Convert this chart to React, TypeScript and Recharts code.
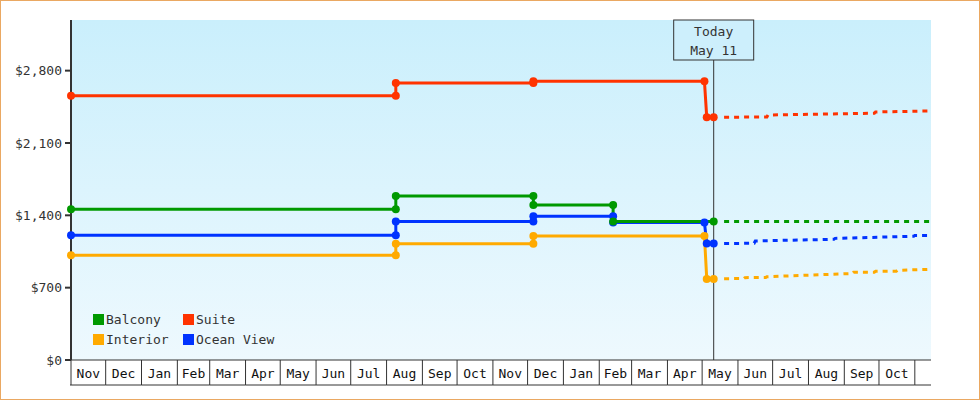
import { LineChart, Line, XAxis, YAxis, CartesianGrid, ReferenceLine } from 'recharts'

type Obs = { date: string, price: number }

const FONT = "'DejaVu Sans Mono', monospace"

const START_DATE = '2021-11-01'
const END_DATE = '2023-11-15'
const TODAY = '2023-05-11'
const TODAY_TEXT = ['Today', 'May 11']

const monthLabels = ['Nov', 'Dec', 'Jan', 'Feb', 'Mar', 'Apr', 'May', 'Jun', 'Jul', 'Aug', 'Sep', 'Oct',
    'Nov', 'Dec', 'Jan', 'Feb', 'Mar', 'Apr', 'May', 'Jun', 'Jul', 'Aug', 'Sep', 'Oct', '']
const yTicks = [0, 700, 1400, 2100, 2800]
const yMax = 3290

// price history (step changes are two points on the same day)
const balconyHistory: Obs[] = [
    { date: '2021-11-01', price: 1458 },
    { date: '2022-08-09', price: 1458 },
    { date: '2022-08-09', price: 1587 },
    { date: '2022-12-06', price: 1587 },
    { date: '2022-12-06', price: 1500 },
    { date: '2023-02-13', price: 1500 },
    { date: '2023-02-13', price: 1339 },
    { date: '2023-05-11', price: 1339 },
]
const oceanHistory: Obs[] = [
    { date: '2021-11-01', price: 1206 },
    { date: '2022-08-09', price: 1206 },
    { date: '2022-08-09', price: 1339 },
    { date: '2022-12-06', price: 1339 },
    { date: '2022-12-06', price: 1391 },
    { date: '2023-02-13', price: 1391 },
    { date: '2023-02-13', price: 1330 },
    { date: '2023-05-03', price: 1330 },
    { date: '2023-05-05', price: 1127 },
    { date: '2023-05-11', price: 1127 },
]
const interiorHistory: Obs[] = [
    { date: '2021-11-01', price: 1013 },
    { date: '2022-08-09', price: 1013 },
    { date: '2022-08-09', price: 1125 },
    { date: '2022-12-06', price: 1125 },
    { date: '2022-12-06', price: 1200 },
    { date: '2023-05-03', price: 1200 },
    { date: '2023-05-05', price: 785 },
    { date: '2023-05-11', price: 785 },
]
const suiteHistory: Obs[] = [
    { date: '2021-11-01', price: 2558 },
    { date: '2022-08-09', price: 2558 },
    { date: '2022-08-09', price: 2681 },
    { date: '2022-12-06', price: 2681 },
    { date: '2022-12-06', price: 2697 },
    { date: '2023-05-03', price: 2697 },
    { date: '2023-05-05', price: 2349 },
    { date: '2023-05-11', price: 2349 },
]

// forecast (dashed)
const balconyForecast: Obs[] = [
    { date: '2023-05-20', price: 1339 },
    { date: '2023-11-15', price: 1339 },
]
const oceanForecast: Obs[] = [
    { date: '2023-05-20', price: 1127 },
    { date: '2023-06-15', price: 1130 },
    { date: '2023-06-16', price: 1152 },
    { date: '2023-08-23', price: 1168 },
    { date: '2023-08-24', price: 1177 },
    { date: '2023-10-31', price: 1197 },
    { date: '2023-11-01', price: 1205 },
    { date: '2023-11-15', price: 1206 },
]
const interiorForecast: Obs[] = [
    { date: '2023-05-20', price: 787 },
    { date: '2023-06-06', price: 788 },
    { date: '2023-06-07', price: 797 },
    { date: '2023-06-25', price: 798 },
    { date: '2023-06-26', price: 806 },
    { date: '2023-09-08', price: 837 },
    { date: '2023-09-09', price: 849 },
    { date: '2023-09-27', price: 850 },
    { date: '2023-09-28', price: 858 },
    { date: '2023-10-16', price: 859 },
    { date: '2023-10-17', price: 868 },
    { date: '2023-11-15', price: 878 },
]
const suiteForecast: Obs[] = [
    { date: '2023-05-20', price: 2349 },
    { date: '2023-06-26', price: 2352 },
    { date: '2023-06-27', price: 2371 },
    { date: '2023-09-27', price: 2388 },
    { date: '2023-09-28', price: 2400 },
    { date: '2023-11-15', price: 2410 },
]

const series = [
    { name: 'Interior', color: '#ffaa00', history: interiorHistory, forecast: interiorForecast },
    { name: 'Ocean View', color: '#0033ff', history: oceanHistory, forecast: oceanForecast },
    { name: 'Balcony', color: '#009900', history: balconyHistory, forecast: balconyForecast },
    { name: 'Suite', color: '#ff3300', history: suiteHistory, forecast: suiteForecast },
]
const legendOrder = ['Balcony', 'Suite', 'Interior', 'Ocean View']

const DAY_MS = 86400000
const utc = (s: string) => Date.parse(s + 'T00:00:00Z')
const toDay = (s: string) => Math.round((utc(s) - utc(START_DATE)) / DAY_MS)
const toPoints = (obs: Obs[]) => obs.map(o => ({ day: toDay(o.date), price: o.price }))

const X_MAX = toDay(END_DATE)
const monthStarts = monthLabels.map((_, i) => {
    const s = new Date(utc(START_DATE))
    return Math.round((Date.UTC(s.getUTCFullYear(), s.getUTCMonth() + i, 1) - utc(START_DATE)) / DAY_MS)
})

const W = 980, H = 400
const M = { top: 20, right: 49, bottom: 0, left: 0 }
const Y_W = 71
const PXD = (W - M.left - M.right - Y_W) / X_MAX

const MonthTick = (props: any) => {
    const { x, y, payload } = props
    const i = monthStarts.indexOf(payload.value)
    const next = i < monthStarts.length - 1 ? monthStarts[i + 1] : X_MAX
    const w = (next - payload.value) * PXD
    return <g>
        <line x1={x} y1={y} x2={x} y2={y + 25} stroke='#333' />
        <line x1={i === 0 ? x - 1 : x} y1={y + 25} x2={x + w} y2={y + 25} stroke='#333' />
        <text x={x + w / 2} y={y + 18} textAnchor='middle' fill='#111' fontSize={13} fontFamily={FONT}>
            {monthLabels[i]}
        </text>
    </g>
}

const TodayLabel = (props: any) => {
    const { viewBox } = props
    const cx = viewBox.x
    const top = viewBox.y
    return <g>
        <rect x={cx - 40} y={top} width={80} height={40} fill='#cdeffc' stroke='#333' />
        <text x={cx} y={top + 16} textAnchor='middle' fill='#333' fontSize={13} fontFamily={FONT}>{TODAY_TEXT[0]}</text>
        <text x={cx} y={top + 35} textAnchor='middle' fill='#333' fontSize={13} fontFamily={FONT}>{TODAY_TEXT[1]}</text>
    </g>
}

const ChartLegend = () => <div style={{
    position: 'absolute', left: 93, top: 313, width: 200,
    display: 'grid', gridTemplateColumns: '90px 110px', rowGap: 7,
    fontFamily: FONT, fontSize: 13, lineHeight: '13px', color: '#333'
}}>
    {legendOrder.map(n => {
        const s = series.find(x => x.name === n)!
        return <div key={n} style={{ display: 'flex', alignItems: 'center', whiteSpace: 'pre' }}>
            <span style={{ display: 'inline-block', width: 11, height: 11, background: s.color, marginRight: 2 }} />
            {n}
        </div>
    })}
</div>

export default function App() {
    return <div style={{ position: 'absolute', left: 0, top: 0, width: W, height: H, background: '#fff' }}>
        <LineChart width={W} height={H} margin={M} style={{ fontFamily: FONT }}>
            <defs>
                <linearGradient id='plotBg' x1='0' y1='0' x2='0' y2='1'>
                    <stop offset='0%' stopColor='#caeffc' />
                    <stop offset='100%' stopColor='#eef9fe' />
                </linearGradient>
            </defs>
            <CartesianGrid fill='url(#plotBg)' horizontal={false} vertical={false} stroke='none' />
            <XAxis
                type='number'
                dataKey='day'
                domain={[0, X_MAX]}
                ticks={monthStarts}
                interval={0}
                tick={MonthTick}
                tickLine={false}
                tickSize={0}
                tickMargin={0}
                axisLine={{ stroke: '#333' }}
                height={40}
            />
            <YAxis
                type='number'
                domain={[0, yMax]}
                ticks={yTicks}
                interval={0}
                width={Y_W}
                tickSize={6}
                tickMargin={3}
                tickFormatter={(v) => `$${v.toLocaleString('en-US')}`}
                tick={{ fill: '#333', fontSize: 13, fontFamily: FONT }}
                axisLine={{ stroke: '#333', strokeWidth: 2 }}
                tickLine={{ stroke: '#333', strokeWidth: 2 }}
            />
            <ReferenceLine x={toDay(TODAY)} stroke='#333' strokeWidth={1} label={TodayLabel} />
            {series.map(s => <Line
                key={s.name + '-f'}
                data={toPoints(s.forecast)}
                dataKey='price'
                type='linear'
                stroke={s.color}
                strokeWidth={3}
                strokeDasharray='5 5'
                dot={false}
                activeDot={false}
                isAnimationActive={false}
            />)}
            {series.map(s => <Line
                key={s.name}
                data={toPoints(s.history)}
                dataKey='price'
                type='linear'
                stroke={s.color}
                strokeWidth={3}
                dot={{ r: 4, fill: s.color, stroke: 'none' }}
                activeDot={false}
                isAnimationActive={false}
            />)}
        </LineChart>
        <ChartLegend />
        <div style={{ position: 'absolute', inset: 0, border: '1px solid #eaa862', pointerEvents: 'none' }} />
    </div>
}
